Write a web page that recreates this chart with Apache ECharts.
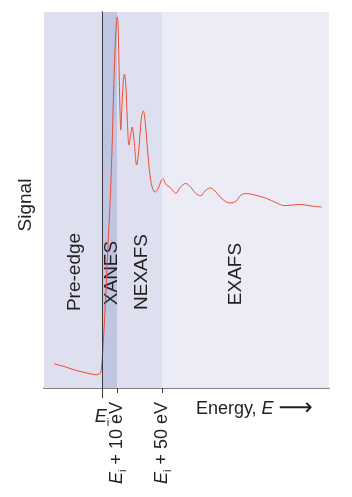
<!DOCTYPE html>
<html>
<head>
<meta charset="utf-8">
<script src="https://cdn.jsdelivr.net/npm/echarts@6/dist/echarts.min.js"></script>
<style>
  html, body { margin: 0; padding: 0; background: #fff; }
  #chart { width: 352px; height: 497px; }
</style>
</head>
<body>
<div id="chart"></div>
<script>
// energy relative to the absorption edge E_i (schematic units)
const energy = [
  -48, -40, -32, -22, -12, -6, -3, -1.5, -0.5,
  0.5, 2, 4, 6, 8, 10, 11.5, 13, 14.3, 15.2, 16, 17, 18, 18.8,
  19.8, 21, 22.4, 23.8, 25.3, 27, 28.5, 30.2, 32, 34.7, 37, 39.3,
  41.3, 43.2, 46, 49, 53, 56.5, 59, 61.3, 63.5, 66, 68.5, 71, 74,
  78, 83.7, 89, 94, 98.7, 103, 108, 113, 120, 128, 134, 139, 144.7,
  153, 164.7, 174, 183, 198, 210, 219.7
]
const signal = [
  6.4, 5.9, 5.2, 4.4, 3.8, 3.5, 3.7, 4.0, 5.3,
  8.8, 15.4, 26.1, 38.0, 48.7, 63.3, 77.9, 89.9, 96.8, 98.7, 96.8, 85.9, 73.9, 68.6,
  73.9, 80.6, 83.5, 80.6, 71.3, 64.6, 67.0, 69.4, 66.0, 59.3, 63.8, 71.8,
  73.7, 70.7, 62.0, 54.8, 52.1, 53.2, 55.1, 55.6, 54.3, 53.7, 53.3, 52.4, 51.8,
  53.3, 54.4, 53.3, 51.7, 51.1, 52.4, 53.2, 52.4, 50.3, 49.2, 49.7, 51.3, 51.7,
  51.3, 50.4, 49.3, 48.5, 48.8, 48.4, 48.1
]

// spectral regions: [start, end, name]
const regions = [
  [-58, 0, 'Pre-edge'],
  [0, 15, 'XANES'],
  [15, 60, 'NEXAFS'],
  [60, 227, 'EXAFS']
]
const regionColors = ['#dfe0ef', '#c0c5e3', '#dfe0ef', '#ececf6']
// label offsets are in the rotated frame: [-down, right]
const regionLabelOffsets = [[-72, 2], [-73, 2], [-72, 2], [-74, -10]]

const edgeTick = [0]
const edgeTickLabel = ['{e|E}{s|i}']
const stepTicks = [15, 60]
const stepTickLabels = ['{e|E}{s|i}{n| + 10 eV}', '{e|E}{s|i}{n| + 50 eV}']

const font = "'Liberation Sans', Arial, Helvetica, sans-serif"
const ink = '#231f20'

const labelRich = {
  e: { fontFamily: font, fontSize: 18, fontStyle: 'italic', color: ink, lineHeight: 22 },
  s: { fontFamily: font, fontSize: 11, color: ink, verticalAlign: 'bottom', lineHeight: 9 },
  n: { fontFamily: font, fontSize: 18, color: ink, lineHeight: 22 }
}

const chart = echarts.init(document.getElementById('chart'))

chart.setOption({
  animation: false,
  grid: { left: 44, right: 23, top: 12, bottom: 109 },
  xAxis: [
    {
      type: 'value',
      min: -58,
      max: 227,
      position: 'bottom',
      axisLine: { show: true, lineStyle: { color: '#58595b', width: 1.5 } },
      axisTick: { show: true, length: 10, customValues: edgeTick, lineStyle: { color: '#3a3a3c', width: 1 } },
      axisLabel: {
        show: true,
        customValues: edgeTick,
        margin: 18,
        formatter: (v) => edgeTickLabel[edgeTick.indexOf(v)],
        rich: labelRich
      },
      splitLine: { show: false },
      name: '{n|Energy, }{e|E}{n| }{a|⟶}',
      nameLocation: 'end',
      nameGap: -16,
      nameTextStyle: {
        align: 'right',
        verticalAlign: 'top',
        padding: [10, 0, 0, 0],
        rich: {
          n: { fontFamily: font, fontSize: 18, color: ink, lineHeight: 22 },
          e: { fontFamily: font, fontSize: 18, fontStyle: 'italic', color: ink, lineHeight: 22 },
          a: { fontFamily: 'DejaVu Sans', fontSize: 24, color: ink, lineHeight: 22 }
        }
      }
    },
    {
      type: 'value',
      min: -58,
      max: 227,
      position: 'bottom',
      offset: 0,
      axisLine: { show: false },
      axisTick: { show: true, length: 5, customValues: stepTicks, lineStyle: { color: '#3a3a3c', width: 1 } },
      axisLabel: {
        show: true,
        customValues: stepTicks,
        rotate: 90,
        margin: 14,
        formatter: (v) => stepTickLabels[stepTicks.indexOf(v)],
        rich: labelRich
      },
      splitLine: { show: false }
    }
  ],
  yAxis: {
    type: 'value',
    min: 0,
    max: 100,
    axisLine: { show: true, lineStyle: { color: '#58595b', width: 1.5 } },
    axisTick: { show: false },
    axisLabel: { show: false },
    splitLine: { show: false },
    name: 'Signal',
    nameLocation: 'middle',
    nameGap: 9,
    nameTextStyle: { fontFamily: font, fontSize: 19, color: ink, padding: [0, 10, 0, 0] }
  },
  series: [
    {
      type: 'line',
      data: [],
      z: 1,
      markArea: {
        silent: true,
        data: regions.map((r, i) => [
          {
            xAxis: r[0],
            itemStyle: { color: regionColors[i] },
            label: {
              show: true,
              formatter: r[2],
              position: 'inside',
              rotate: 90,
              offset: regionLabelOffsets[i],
              fontFamily: font,
              fontSize: 19,
              color: ink
            }
          },
          { xAxis: r[1] }
        ])
      },
      markLine: {
        silent: true,
        symbol: 'none',
        label: { show: false },
        lineStyle: { color: '#3a3a3c', width: 1, type: 'solid' },
        data: [{ xAxis: 0 }]
      }
    },
    {
      type: 'line',
      z: 3,
      smooth: 0.35,
      showSymbol: false,
      lineStyle: { color: '#ee4c36', width: 1 },
      data: energy.map((x, i) => [x, signal[i]])
    }
  ]
})
</script>
</body>
</html>
